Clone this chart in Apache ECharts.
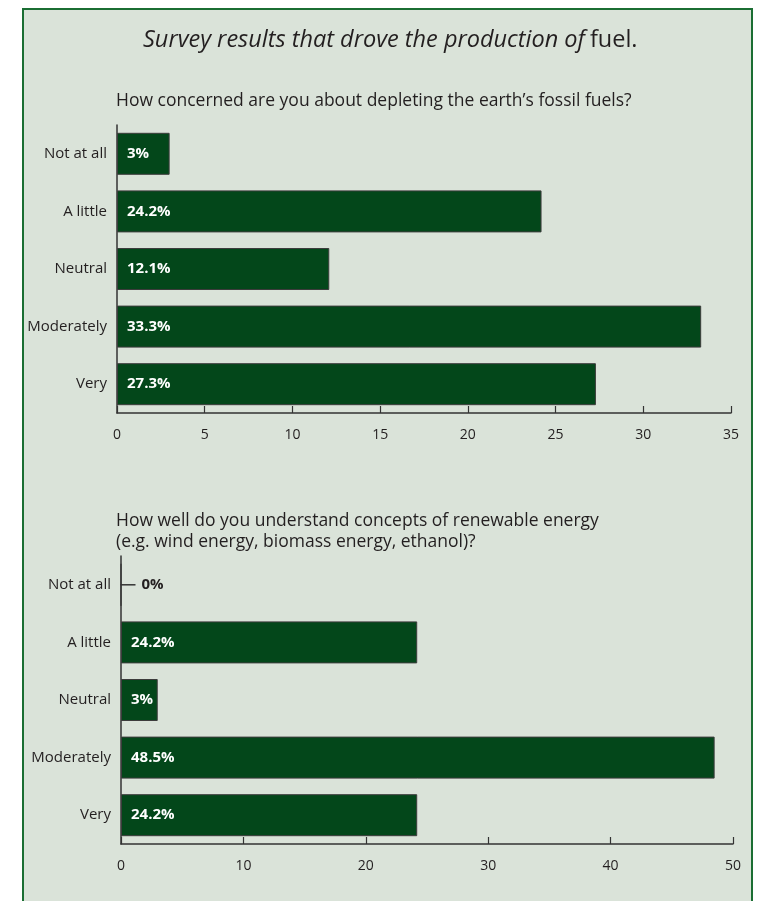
<!DOCTYPE html>
<html lang="en">
<head>
    <meta charset="UTF-8">
    <title>Survey results</title>
    <style>
        body { margin: 0; background: #fff; }
        div#frame {
            position: absolute;
            left: 22px; top: 8px;
            width: 727px; height: 900px;
            border: 2px solid #1b6e33;
            background: #dae3d9;
        }
        div#main { position: absolute; left: 0; top: 0; }
    </style>
</head>
<body>
    <div id="frame"></div>
    <div id="main" style="width:762px; height:901px;"></div>
    <script src="https://cdn.jsdelivr.net/npm/echarts@6/dist/echarts.min.js"></script>
    <script>
        // survey answers, same order in both charts
        const categories = ['Not at all', 'A little', 'Neutral', 'Moderately', 'Very'];
        const fossilValues = [3, 24.2, 12.1, 33.3, 27.3];
        const renewableValues = [0, 24.2, 3, 48.5, 24.2];
        const fossilAxis = { max: 35, interval: 5 };
        const renewableAxis = { max: 50, interval: 10 };

        const titleText = 'Survey results that drove the production of';
        const question1 = 'How concerned are you about depleting the earth\u2019s fossil fuels?';
        const question2 = 'How well do you understand concepts of renewable energy\n(e.g. wind energy, biomass energy, ethanol)?';

        const font = '"Open Sans", "Noto Sans", sans-serif';
        const textDark = '#231f20';
        const axisDark = '#333333';
        const barGreen = '#03471a';

        const myChart = echarts.init(document.getElementById('main'), null, { renderer: 'canvas' });

        function xAxisFor(gridIndex, ax) {
            return {
                type: 'value',
                gridIndex: gridIndex,
                min: 0,
                max: ax.max,
                interval: ax.interval,
                axisLine: { show: true, lineStyle: { color: axisDark, width: 1.5 } },
                axisTick: { show: true, inside: true, length: 7, lineStyle: { color: axisDark, width: 1.2 } },
                splitLine: { show: false },
                axisLabel: { margin: 15, color: textDark, fontSize: 14, fontFamily: font }
            };
        }

        function yAxisFor(gridIndex) {
            return {
                type: 'category',
                gridIndex: gridIndex,
                inverse: true,
                data: categories,
                axisLine: { show: true, lineStyle: { color: axisDark, width: 1.5 } },
                axisTick: { show: false },
                axisLabel: { margin: 10, color: textDark, fontSize: 15, fontFamily: font }
            };
        }

        function barData(values) {
            return values.map(v => {
                if (v !== 0) return v;
                // empty bar: a short dash off the axis and a dark label
                return {
                    value: v,
                    label: {
                        distance: 0,
                        formatter: '{d|}{t|0%}',
                        rich: {
                            d: { width: 15, height: 1.5, backgroundColor: axisDark },
                            t: { color: textDark, fontWeight: 'bold', fontSize: 15, fontFamily: font, padding: [0, 0, 0, 6] }
                        }
                    }
                };
            });
        }

        function barSeries(idx, values) {
            return {
                type: 'bar',
                xAxisIndex: idx,
                yAxisIndex: idx,
                data: barData(values),
                barWidth: 42,
                itemStyle: { color: barGreen, borderColor: '#3c3c3c', borderWidth: 1 },
                label: {
                    show: true,
                    position: 'insideLeft',
                    distance: 10,
                    color: '#ffffff',
                    fontWeight: 'bold',
                    fontSize: 15,
                    fontFamily: font,
                    formatter: p => p.value + '%'
                },
                silent: true
            };
        }

        const option = {
            animation: false,
            title: [
                {
                    text: '{i|' + titleText + '} {n|fuel.}',
                    left: 143,
                    top: 28,
                    padding: 0,
                    textStyle: {
                        rich: {
                            i: { fontSize: 23.5, fontStyle: 'italic', fontWeight: 'normal', color: textDark, fontFamily: font },
                            n: { fontSize: 23.5, fontWeight: 'normal', color: textDark, fontFamily: font }
                        }
                    }
                },
                {
                    text: question1,
                    left: 116,
                    top: 92,
                    padding: 0,
                    textStyle: { fontSize: 17.5, fontWeight: 'normal', color: textDark, fontFamily: font }
                },
                {
                    text: question2,
                    left: 116,
                    top: 511,
                    padding: 0,
                    textStyle: { fontSize: 17.5, fontWeight: 'normal', color: textDark, fontFamily: font, lineHeight: 21 }
                }
            ],
            grid: [
                { left: 117, top: 125, width: 614, height: 288 },
                { left: 121, top: 556, width: 612, height: 288 }
            ],
            xAxis: [xAxisFor(0, fossilAxis), xAxisFor(1, renewableAxis)],
            yAxis: [yAxisFor(0), yAxisFor(1)],
            series: [barSeries(0, fossilValues), barSeries(1, renewableValues)]
        };

        myChart.setOption(option);
    </script>
</body>
</html>
